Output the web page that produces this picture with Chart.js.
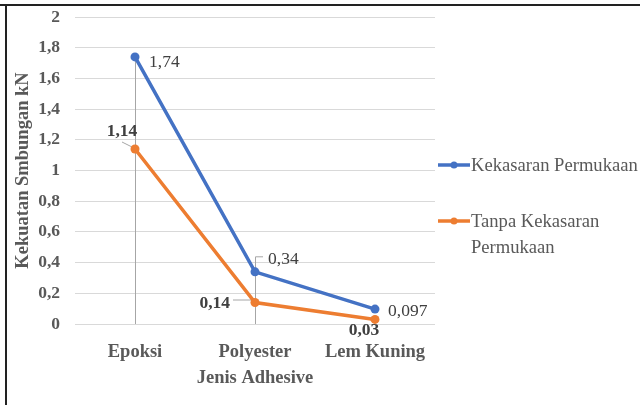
<!DOCTYPE html>
<html><head><meta charset="utf-8">
<script src="https://cdn.jsdelivr.net/npm/chart.js@4/dist/chart.umd.min.js"></script>
<style>html,body{margin:0;padding:0;background:#fff;}#wrap{position:relative;width:640px;height:405px;}</style>
</head><body><div id="wrap"><canvas id="c" width="640" height="405"></canvas></div>
<script>
const categories = ["Epoksi", "Polyester", "Lem Kuning"];
const seriesNames = ["Kekasaran Permukaan", "Tanpa Kekasaran Permukaan"];
const legendLines = [["Kekasaran Permukaan"], ["Tanpa Kekasaran", "Permukaan"]];
const kekasaran = [1.74, 0.34, 0.097];
const tanpaKekasaran = [1.14, 0.14, 0.03];
const yTicks = [0, 0.2, 0.4, 0.6, 0.8, 1, 1.2, 1.4, 1.6, 1.8, 2];
const yTitle = "Kekuatan Smbungan kN";
const xTitle = "Jenis Adhesive";

const BLUE = "#4472C4", ORANGE = "#ED7D31";
const SERIF = "'Liberation Serif', serif";
const fmt = v => String(v).replace('.', ',');

const extras = {
  id: 'extras',
  beforeDatasetsDraw(chart) {
    const ctx = chart.ctx;
    const y = chart.scales.y;
    const m0 = chart.getDatasetMeta(0).data;
    const m1 = chart.getDatasetMeta(1).data;
    ctx.save();
    ctx.strokeStyle = '#a6a6a6';
    ctx.lineWidth = 1;
    [0, 1].forEach(i => {
      const p = m0[i];
      ctx.beginPath();
      ctx.moveTo(Math.round(p.x) + 0.5, p.y);
      ctx.lineTo(Math.round(p.x) + 0.5, y.getPixelForValue(0));
      ctx.stroke();
    });
    ctx.beginPath();
    ctx.moveTo(Math.round(m0[1].x) + 0.5, m0[1].y);
    ctx.lineTo(Math.round(m0[1].x) + 0.5, m0[1].y - 15);
    ctx.lineTo(Math.round(m0[1].x) + 8, m0[1].y - 15);
    ctx.stroke();
    ctx.beginPath();
    ctx.moveTo(m1[0].x - 3, m1[0].y - 2);
    ctx.lineTo(m1[0].x - 13, m1[0].y - 7);
    ctx.stroke();
    ctx.beginPath();
    ctx.moveTo(m1[1].x - 4, m1[1].y - 2.5);
    ctx.lineTo(m1[1].x - 22, m1[1].y - 2.5);
    ctx.stroke();
    ctx.restore();
  },
  afterDraw(chart) {
    const ctx = chart.ctx;
    const m0 = chart.getDatasetMeta(0).data;
    const m1 = chart.getDatasetMeta(1).data;
    ctx.save();
    ctx.fillStyle = '#404040';
    ctx.textBaseline = 'middle';
    ctx.font = "17.5px " + SERIF;
    ctx.textAlign = 'left';
    ctx.fillText(fmt(kekasaran[0]), m0[0].x + 14, m0[0].y + 5);
    ctx.fillText(fmt(kekasaran[1]), m0[1].x + 13, m0[1].y - 12);
    ctx.fillText(fmt(kekasaran[2]), m0[2].x + 13, m0[2].y + 2);
    ctx.font = "bold 17.5px " + SERIF;
    ctx.textAlign = 'center';
    ctx.fillText(fmt(tanpaKekasaran[0]), m1[0].x - 13, m1[0].y - 18);
    ctx.textAlign = 'right';
    ctx.fillText(fmt(tanpaKekasaran[1]), m1[1].x - 25, m1[1].y + 1);
    ctx.textAlign = 'center';
    ctx.fillText(fmt(tanpaKekasaran[2]), m1[2].x - 11, m1[2].y + 11);
    const colors = [BLUE, ORANGE];
    const legY = [165, 221];
    ctx.font = "18.6px " + SERIF;
    ctx.textAlign = 'left';
    legendLines.forEach((lines, i) => {
      ctx.strokeStyle = colors[i];
      ctx.lineWidth = 3.5;
      ctx.beginPath();
      ctx.moveTo(438, legY[i]);
      ctx.lineTo(470, legY[i]);
      ctx.stroke();
      ctx.fillStyle = colors[i];
      ctx.beginPath();
      ctx.arc(454, legY[i], 3.5, 0, Math.PI * 2);
      ctx.fill();
      ctx.fillStyle = '#595959';
      lines.forEach((t, j) => ctx.fillText(t, 471, legY[i] + 1 + j * 26));
    });
    ctx.fillStyle = '#222';
    ctx.fillRect(0, 4, 640, 2);
    ctx.fillRect(5, 4, 2, 401);
    ctx.restore();
  }
};

function draw() {
  new Chart(document.getElementById('c'), {
    type: 'line',
    data: {
      labels: categories,
      datasets: [
        { label: seriesNames[0], data: kekasaran, borderColor: BLUE, backgroundColor: BLUE,
          borderWidth: 3.5, pointRadius: 4.5, pointBackgroundColor: BLUE, pointBorderWidth: 0, tension: 0 },
        { label: seriesNames[1], data: tanpaKekasaran, borderColor: ORANGE, backgroundColor: ORANGE,
          borderWidth: 3.5, pointRadius: 4.5, pointBackgroundColor: ORANGE, pointBorderWidth: 0, tension: 0 }
      ]
    },
    options: {
      responsive: false,
      animation: false,
      layout: { padding: { left: 0, right: 205, top: 17, bottom: 0 } },
      plugins: { legend: { display: false }, tooltip: { enabled: false } },
      scales: {
        x: {
          offset: true,
          grid: { display: false },
          border: { display: false },
          ticks: { color: '#595959', font: { family: SERIF, size: 18.5, weight: 'bold' }, padding: 9 },
          title: { display: true, text: xTitle, color: '#595959', font: { family: SERIF, size: 18.5, weight: 'bold' }, padding: { top: 0, bottom: 16 } },
          afterFit(s) { s.height = 81; s.paddingLeft = 0; s.paddingRight = 0; }
        },
        y: {
          min: 0, max: 2,
          afterBuildTicks(s) { s.ticks = yTicks.map(v => ({ value: v })); },
          grid: { color: '#d9d9d9', lineWidth: 1, drawTicks: false },
          border: { display: false },
          ticks: { color: '#595959', font: { family: SERIF, size: 17.5, weight: 'bold' }, padding: 15,
            callback: v => fmt(Math.round(v * 10) / 10) },
          title: { display: true, text: yTitle, color: '#595959', font: { family: SERIF, size: 18.5, weight: 'bold' }, padding: { top: 12, bottom: 0 } },
          afterFit(s) { s.width = 75; s.paddingTop = 0; s.paddingBottom = 0; }
        }
      }
    },
    plugins: [extras]
  });
}
Promise.all([
  document.fonts.load("17px 'Liberation Serif'"),
  document.fonts.load("bold 17px 'Liberation Serif'")
]).then(draw, draw);
</script></body></html>
